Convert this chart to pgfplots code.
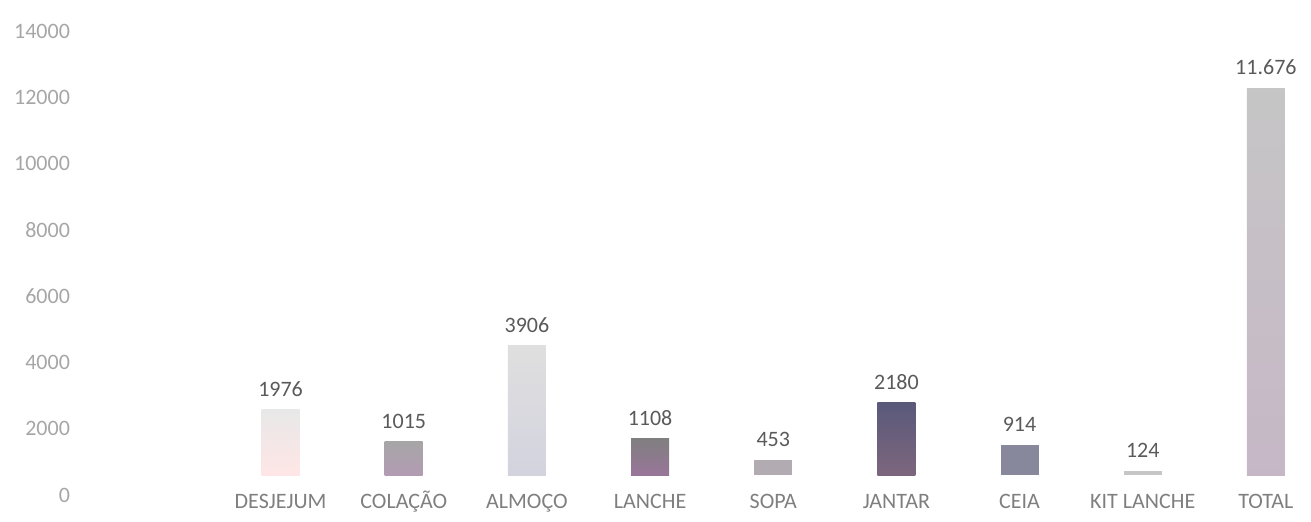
\documentclass[border=0pt]{standalone}
\usepackage{pgfplots}
\pgfplotsset{compat=1.18}
\usepackage{fontspec}
\setmainfont{Carlito}

\definecolor{ytxt}{HTML}{A6A6A6}
\definecolor{xtxt}{HTML}{7F7F7F}
\definecolor{vtxt}{HTML}{5A5A5A}

\begin{document}
\begin{tikzpicture}
\begin{axis}[
  at={(109.5pt,23pt)}, anchor=south west,
  scale only axis, width=545pt, height=232pt,
  xmin=-0.5, xmax=8.35, ymin=0, ymax=14000,
  xtick={0,...,8},
  xticklabels={DESJEJUM,COLAÇÃO,ALMOÇO,LANCHE,SOPA,JANTAR,CEIA,KIT LANCHE,TOTAL},
  ytick={0,2000,...,14000},
  scaled y ticks=false,
  /pgf/number format/1000 sep={},
  /pgf/number format/assume math mode=true,
  axis line style={draw=none}, tick style={draw=none},
  xticklabel style={font=\fontsize{11}{13}\selectfont, text=xtxt, text height=8pt, text depth=2pt, yshift=-1pt},
  yticklabel style={font=\fontsize{11}{13}\selectfont, text=ytxt, xshift=-71pt, yshift=-10pt},
  ybar, bar width=19pt, bar shift=0pt,
  every node near coord/.append style={font=\fontsize{11}{13}\selectfont, text=vtxt, yshift=3pt},
  clip=false,
]
% DESJEJUM
\addplot[draw=none, top color=gray!18, bottom color=red!10, nodes near coords={1976}] coordinates {(0,1976)};
% COLACAO
\addplot[draw=none, top color=black!35, bottom color=violet!30!gray!60, nodes near coords={1015}] coordinates {(1,1015)};
% ALMOCO
\addplot[draw=none, top color=gray!25, middle color=red!10!gray!25, bottom color=blue!15!gray!30, nodes near coords={3906}] coordinates {(2,3906)};
% LANCHE
\addplot[draw=none, top color=black!50, bottom color=violet!35!gray!80, nodes near coords={1108}] coordinates {(3,1108)};
% SOPA
\addplot[draw=none, fill=violet!10!gray!60, nodes near coords={453}] coordinates {(4,453)};
% JANTAR
\addplot[draw=none, top color=blue!20!black!65, bottom color=violet!30!black!60, nodes near coords={2180}] coordinates {(5,2180)};
% CEIA
\addplot[draw=none, fill=blue!10!gray!85, nodes near coords={914}] coordinates {(6,914)};
% KIT LANCHE
\addplot[draw=none, fill=gray!45, nodes near coords={124}] coordinates {(7,124)};
% TOTAL
\addplot[draw=none, top color=gray!45, bottom color=violet!25!gray!45, nodes near coords={11.676}] coordinates {(8,11676)};
\end{axis}
\pgfresetboundingbox
\useasboundingbox (0,0) rectangle (655.5pt,260.5pt);
\end{tikzpicture}
\end{document}
